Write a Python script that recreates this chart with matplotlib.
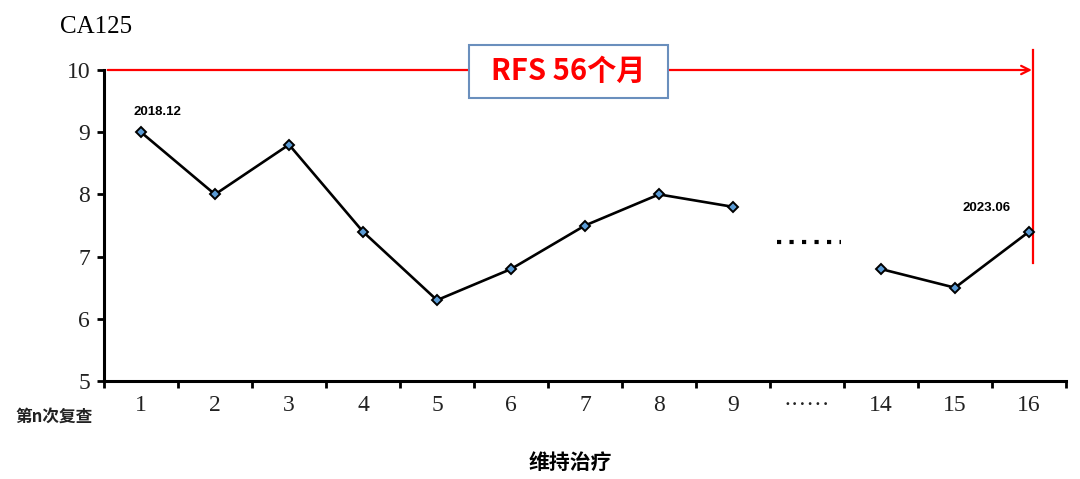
import numpy as np
import matplotlib
matplotlib.use("Agg")
import matplotlib.pyplot as plt
from matplotlib.patches import Rectangle

# ---- data ----
categories = ["1", "2", "3", "4", "5", "6", "7", "8", "9", "······", "14", "15", "16"]
ca125 = [9.0, 8.0, 8.8, 7.4, 6.3, 6.8, 7.5, 8.0, 7.8, np.nan, 6.8, 6.5, 7.4]
y_ticks = [5, 6, 7, 8, 9, 10]
first_label = "2018.12"
last_label = "2023.06"
rfs_text = "RFS 56个月"
gap_level = 7.24

W, H = 1080, 479
fig = plt.figure(figsize=(W / 100, H / 100), dpi=100)
ax = fig.add_axes([104 / W, 1 - 381 / H, (1066 - 104) / W, (381 - 70) / H])

x = np.arange(len(categories))
ax.plot(x, ca125, color="black", lw=1.9, marker="D", markersize=5.5,
        markerfacecolor="#5b9bd5", markeredgecolor="black", markeredgewidth=1.4,
        zorder=3, clip_on=False)

# gap dots in plot
gi = 9
ax.plot([gi - 0.405, gi + 0.46], [gap_level, gap_level], color="black",
        lw=3.0, linestyle=(0, (1, 2)), dash_capstyle="butt", solid_capstyle="butt")

ax.set_xlim(-0.5, len(categories) - 0.5)
ax.set_ylim(y_ticks[0], y_ticks[-1])

# ticks
ax.set_xticks(np.arange(-0.5, len(categories), 1.0))
ax.set_xticklabels([])
ax.set_xticks(x, minor=True)
ax.set_xticklabels(categories, minor=True, fontsize=17, family="Liberation Serif",
                   color="#222222")
ax.tick_params(axis="x", which="major", direction="out", length=5, width=2)
ax.tick_params(axis="x", which="minor", length=0, pad=10)
ax.set_yticks(y_ticks)
ax.set_yticklabels([str(v) for v in y_ticks], fontsize=17, family="Liberation Serif",
                   color="#222222")
ax.tick_params(axis="y", direction="out", length=5, width=2, pad=5)

for s in ["top", "right"]:
    ax.spines[s].set_visible(False)
for s in ["left", "bottom"]:
    ax.spines[s].set_linewidth(2.2)

# date labels
ax.annotate(first_label, xy=(0, ca125[0]), xytext=(16, 20), textcoords="offset pixels",
            ha="center", va="center", fontsize=9.5, fontweight="bold",
            family="Liberation Sans")
ax.annotate(last_label, xy=(len(categories) - 1, ca125[-1]), xytext=(-42, 24),
            textcoords="offset pixels", ha="center", va="center", fontsize=9.5,
            fontweight="bold", family="Liberation Sans")

# red RFS arrow and end line
xend = len(categories) - 1 + 0.06
ax.annotate("", xy=(xend - 0.02, 10), xytext=(-0.45, 10),
            arrowprops=dict(arrowstyle="->", color="#ff0000", lw=1.6,
                            shrinkA=0, shrinkB=0, mutation_scale=15),
            annotation_clip=False)
ax.plot([xend, xend], [6.9, 10.32], color="#ff0000", lw=1.6, clip_on=False)

# RFS box
fig.patches.append(Rectangle((469 / W, 1 - 98 / H), 199 / W, 53 / H,
                             transform=fig.transFigure, facecolor="white",
                             edgecolor="#6a8fbd", lw=1.5, zorder=5))
fig.text(568 / W, 1 - 71 / H, rfs_text, ha="center", va="center", color="#ff0000",
         fontsize=21, fontweight="bold", family=["Noto Sans CJK SC", "DejaVu Sans"],
         zorder=6)

# texts
fig.text(60 / W, 1 - 27 / H, "CA125", ha="left", va="center", fontsize=18,
         family="Liberation Serif")
fig.text(54 / W, 1 - 417 / H, "第n次复查", ha="center", va="center", fontsize=12,
         fontweight="bold", family=["Noto Sans CJK SC", "DejaVu Sans"], color="#222222")
fig.text(570 / W, 1 - 462 / H, "维持治疗", ha="center", va="center", fontsize=15,
         fontweight="bold", family=["Noto Sans CJK SC", "DejaVu Sans"])

fig.savefig("out.png", dpi=100)
